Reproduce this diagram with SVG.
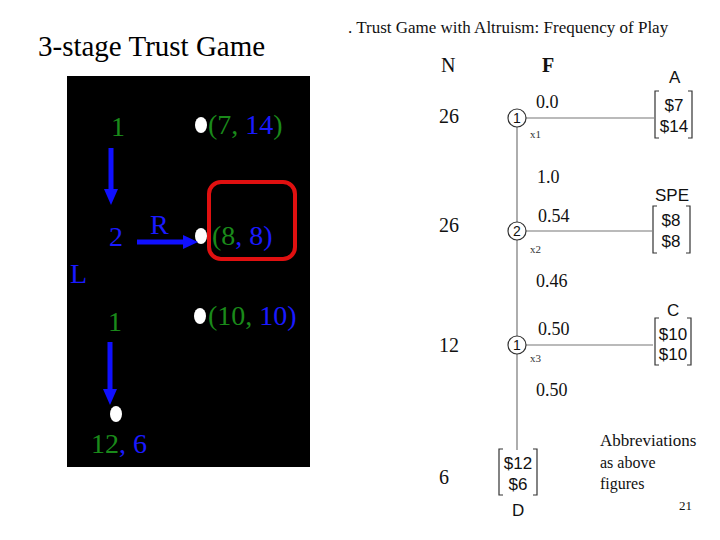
<svg xmlns="http://www.w3.org/2000/svg" width="720" height="540" viewBox="0 0 720 540">
<style>
.serif{font-family:"Liberation Serif","Times New Roman",serif}
.sans{font-family:"Liberation Sans",Arial,sans-serif}
.g{fill:#1a8a1a}
.b{fill:#1a1aff}
.big{font-size:28px}
.num{font-size:20px;fill:#111}
.prob{font-size:18px;fill:#111}
.pay{font-size:17px;fill:#111}
.sub{font-size:11px;fill:#333}
.line{stroke:#777;stroke-width:1.2;fill:none}
.brk{stroke:#333;stroke-width:1.2;fill:none}
.node{fill:#fff;stroke:#333;stroke-width:1.2}
.dot{fill:#fff}
.arr{stroke:#1010ff;stroke-width:5;fill:none}
.head{fill:#1010ff}
</style>
<rect width="720" height="540" fill="#fff"/>
<text class="serif" x="38" y="56" font-size="29" fill="#000">3-stage Trust Game</text>
<g id="left-panel">
<rect x="67" y="76" width="243" height="391" fill="#000"/>
<g id="n1a"><text class="serif big g" x="111" y="136">1</text></g>
<g id="n2"><text class="serif big b" x="109" y="246">2</text></g>
<g id="n1b"><text class="serif big g" x="108" y="331">1</text></g>
<g id="labelR"><text class="serif big b" x="150" y="234">R</text></g>
<g id="labelL"><text class="serif big b" x="70" y="283">L</text></g>
<g id="t714"><ellipse class="dot" cx="201" cy="125" rx="6" ry="8"/><text class="serif big" x="208" y="134"><tspan class="g">(7, </tspan><tspan class="b">14</tspan><tspan class="g">)</tspan></text></g>
<g id="t88"><rect x="209" y="182" width="86" height="77" rx="12" fill="none" stroke="#e01010" stroke-width="4"/><ellipse class="dot" cx="201" cy="236" rx="6" ry="8"/><text class="serif big" x="212" y="245"><tspan class="g">(8</tspan><tspan class="b">, 8)</tspan></text></g>
<g id="t1010"><ellipse class="dot" cx="200" cy="316" rx="6" ry="8"/><text class="serif big" x="208" y="325"><tspan class="g">(10, </tspan><tspan class="b">10)</tspan></text></g>
<g id="t126"><ellipse class="dot" cx="116" cy="414" rx="6" ry="8"/><text class="serif big" x="91" y="453"><tspan class="g">12</tspan><tspan class="b">, 6</tspan></text></g>
<g id="arrows">
<line class="arr" x1="111" y1="148" x2="111" y2="190"/><polygon class="head" points="104,189 118,189 111,205"/>
<line class="arr" x1="137" y1="242" x2="184" y2="242"/><polygon class="head" points="183,235 183,249 198,242"/>
<line class="arr" x1="110" y1="342" x2="110" y2="390"/><polygon class="head" points="103,389 117,389 110,405"/>
</g>
</g>
<g id="right-panel">
<text class="serif" x="348" y="33" font-size="17" fill="#111">. Trust Game with Altruism: Frequency of Play</text>
<text class="serif num" x="441" y="72">N</text>
<text class="serif num" x="542" y="72" font-weight="bold">F</text>
<text class="serif num" x="439" y="123">26</text>
<text class="serif num" x="439" y="232">26</text>
<text class="serif num" x="439" y="352">12</text>
<text class="serif num" x="439" y="484">6</text>
<g id="connectors">
<line class="line" x1="517" y1="127" x2="517" y2="222"/>
<line class="line" x1="517" y1="240" x2="517" y2="336"/>
<line class="line" x1="517" y1="354" x2="517" y2="450"/>
<line class="line" x1="526" y1="118" x2="654" y2="118"/>
<line class="line" x1="526" y1="231" x2="652" y2="231"/>
<line class="line" x1="526" y1="345" x2="653" y2="345"/>
</g>
<g id="node1"><circle class="node" cx="517" cy="118" r="9"/><text class="sans" x="517" y="123" font-size="14" text-anchor="middle" fill="#111">1</text><text class="serif sub" x="530" y="138">x1</text></g>
<g id="node2"><circle class="node" cx="517" cy="231" r="9"/><text class="sans" x="517" y="236" font-size="14" text-anchor="middle" fill="#111">2</text><text class="serif sub" x="530" y="253">x2</text></g>
<g id="node3"><circle class="node" cx="517" cy="345" r="9"/><text class="sans" x="517" y="350" font-size="14" text-anchor="middle" fill="#111">1</text><text class="serif sub" x="530" y="362">x3</text></g>
<text class="serif prob" x="536" y="108">0.0</text>
<text class="serif prob" x="537" y="183">1.0</text>
<text class="serif prob" x="538" y="222">0.54</text>
<text class="serif prob" x="536" y="287">0.46</text>
<text class="serif prob" x="538" y="335">0.50</text>
<text class="serif prob" x="536" y="396">0.50</text>
<g id="payA">
<text class="sans pay" x="669" y="83" font-size="16">A</text>
<path class="brk" d="M659,91 H655 V138 H659 M688,91 H692 V138 H688"/>
<text class="sans pay" x="674" y="111" text-anchor="middle">$7</text>
<text class="sans pay" x="674" y="132" text-anchor="middle">$14</text>
</g>
<g id="paySPE">
<text class="sans pay" x="655" y="201">SPE</text>
<path class="brk" d="M657,206 H653 V253 H657 M686,206 H690 V253 H686"/>
<text class="sans pay" x="671" y="226" text-anchor="middle">$8</text>
<text class="sans pay" x="671" y="247" text-anchor="middle">$8</text>
</g>
<g id="payC">
<text class="sans pay" x="667" y="316">C</text>
<path class="brk" d="M659,318 H655 V365 H659 M687,318 H691 V365 H687"/>
<text class="sans pay" x="673" y="340" text-anchor="middle">$10</text>
<text class="sans pay" x="673" y="360" text-anchor="middle">$10</text>
</g>
<g id="payD">
<path class="brk" d="M503,449 H499 V495 H503 M533,449 H537 V495 H533"/>
<text class="sans pay" x="518" y="469" text-anchor="middle">$12</text>
<text class="sans pay" x="518" y="490" text-anchor="middle">$6</text>
<text class="sans pay" x="512" y="516">D</text>
</g>
<text class="serif" x="600" y="446" font-size="17" fill="#111">Abbreviations</text>
<text class="serif" x="600" y="468" font-size="16" fill="#111">as above</text>
<text class="serif" x="600" y="489" font-size="16" fill="#111">figures</text>
<text class="serif" x="679" y="510" font-size="13" fill="#111">21</text>
</g>
</svg>
